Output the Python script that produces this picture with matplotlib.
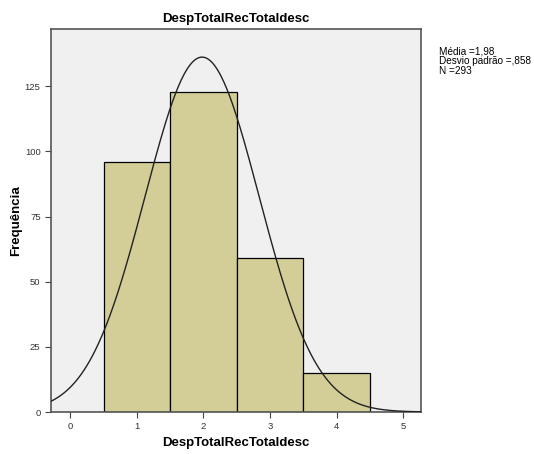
import numpy as np
import matplotlib
matplotlib.use("Agg")
import matplotlib.pyplot as plt

plt.rcParams['font.family'] = ['Liberation Sans', 'DejaVu Sans']

# frequency per class of DespTotalRecTotaldesc
classes = [1, 2, 3, 4]
counts = [96, 123, 59, 15]
mean, sd, n = 1.98, 0.858, 293

fig = plt.figure(figsize=(5.34, 4.54), dpi=100)
ax = fig.add_axes([0.0955, 0.0925, 0.693, 0.8435])
ax.set_facecolor('#f0f0f0')

ax.bar(classes, counts, width=1.0, color='#d3ce98', edgecolor='black', linewidth=0.9, zorder=2)

# normal curve scaled to counts (bin width = 1)
xs = np.linspace(-0.3, 5.3, 400)
ys = n / (sd * np.sqrt(2 * np.pi)) * np.exp(-0.5 * ((xs - mean) / sd) ** 2)
ax.plot(xs, ys, color='#222222', linewidth=1.0, zorder=3)

ax.set_xlim(-0.29, 5.27)
ax.set_ylim(0, 147)
ax.set_xticks(range(6))
ax.set_yticks([0, 25, 50, 75, 100, 125])
ax.tick_params(labelsize=6.8, labelcolor='#333333', length=4, width=0.8, color='#444444')
for s in ax.spines.values():
    s.set_color('#555555')
    s.set_linewidth(1.2)

ax.set_title('DespTotalRecTotaldesc', fontsize=9.5, fontweight='bold', pad=5)
ax.set_xlabel('DespTotalRecTotaldesc', fontsize=9.5, fontweight='bold', labelpad=4)
ax.set_ylabel('Frequência', fontsize=9.5, fontweight='bold', labelpad=2)

fig.text(0.822, 0.897, 'Média =1,98\nDesvio padrão =,858\nN =293', fontsize=7.2,
         va='top', ha='left', linespacing=0.95)

fig.savefig('out.png', dpi=100)
